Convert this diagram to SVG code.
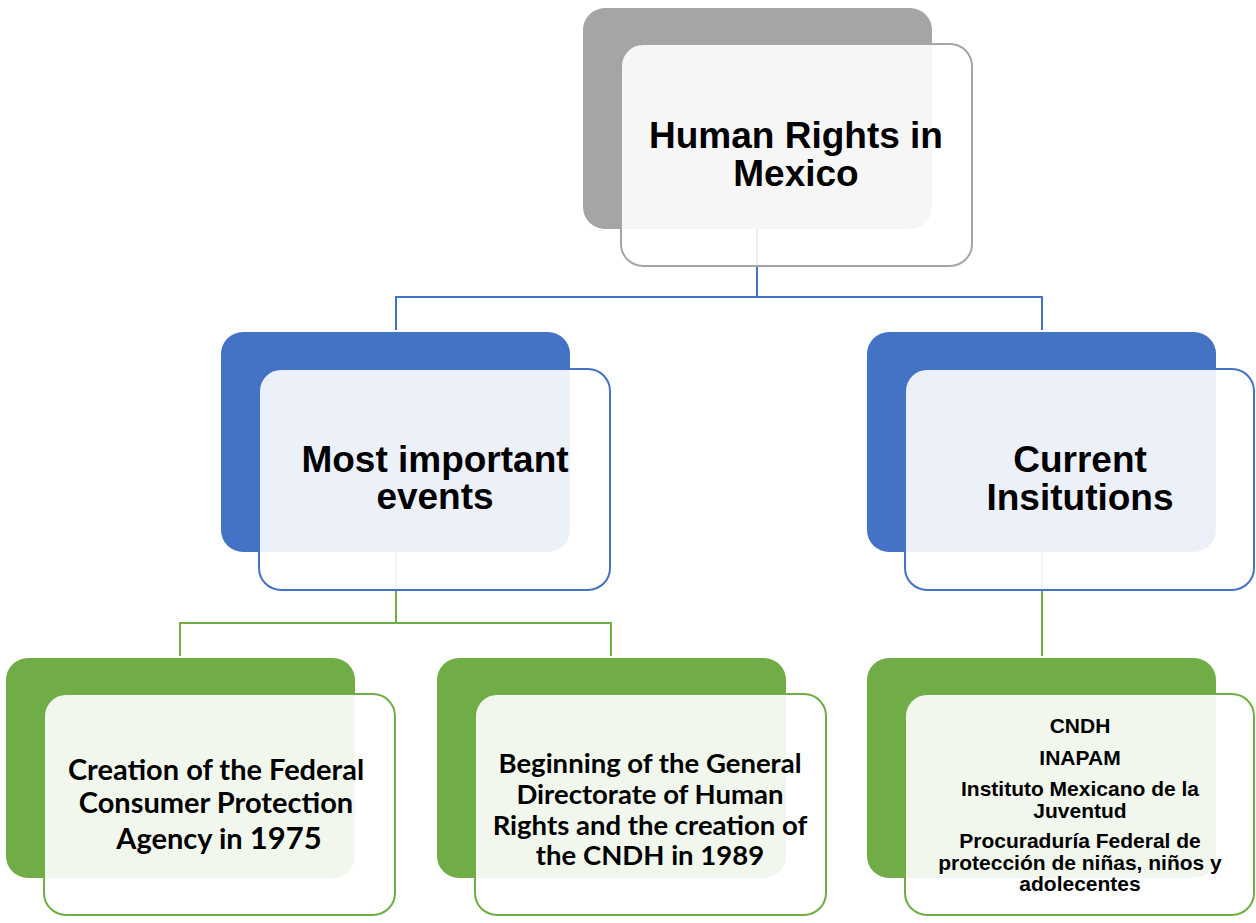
<svg xmlns="http://www.w3.org/2000/svg" width="1256" height="923" viewBox="0 0 1256 923">
<style>
.bg{fill:#ffffff}
.conn-b{fill:none;stroke:#4472c4;stroke-width:2}
.conn-g{fill:none;stroke:#70ad47;stroke-width:2}
.back-gray{fill:#a5a5a5}
.back-blue{fill:#4472c4}
.back-green{fill:#70ad47}
.front{fill:#ffffff;fill-opacity:0.9;stroke-width:2}
.fg{stroke:#a5a5a5}
.fb{stroke:#4472c4}
.fgr{stroke:#70ad47}
.t1{font-family:"Liberation Sans",Arial,sans-serif;font-weight:bold;font-size:37px;fill:#000;text-anchor:middle}
.t2{font-family:Lato,"Liberation Sans",sans-serif;font-weight:bold;fill:#000;text-anchor:middle}
.t3{font-family:"Liberation Sans",Arial,sans-serif;font-weight:bold;font-size:21px;fill:#000;text-anchor:middle}
</style>
<rect class="bg" x="0" y="0" width="1256" height="923"/>
<g id="connectors">
<path class="conn-b" d="M757,229 V297 M396,297 H1042 M396,296 V330 M1042,296 V330"/>
<path class="conn-g" d="M396,552 V623 M180,623 H611 M180,622 V656 M611,622 V656 M1042,552 V656"/>
</g>
<g id="node-root">
<rect class="back-gray" x="583" y="8" width="349" height="221" rx="22"/>
<rect class="front fg" x="621" y="44" width="351" height="222" rx="22"/>
<text class="t1" x="796" y="148">Human Rights in</text>
<text class="t1" x="796" y="186">Mexico</text>
</g>
<g id="node-events">
<rect class="back-blue" x="221" y="332" width="349" height="220" rx="22"/>
<rect class="front fb" x="259" y="369" width="351" height="221" rx="22"/>
<text class="t1" x="435" y="472">Most important</text>
<text class="t1" x="435" y="509">events</text>
</g>
<g id="node-institutions">
<rect class="back-blue" x="867" y="332" width="349" height="220" rx="22"/>
<rect class="front fb" x="905" y="369" width="349" height="221" rx="22"/>
<text class="t1" x="1080" y="472">Current</text>
<text class="t1" x="1080" y="510">Insitutions</text>
</g>
<g id="node-1975">
<rect class="back-green" x="6" y="658" width="349" height="220" rx="22"/>
<rect class="front fgr" x="44" y="694" width="351" height="221" rx="22"/>
<text class="t2" font-size="29" x="216" y="780">Creation of the Federal</text>
<text class="t2" font-size="29" x="216" y="813">Consumer Protection</text>
<text class="t2" font-size="29" x="219" y="849">Agency in <tspan font-size="31">1975</tspan></text>
</g>
<g id="node-1989">
<rect class="back-green" x="437" y="658" width="349" height="220" rx="22"/>
<rect class="front fgr" x="475" y="694" width="351" height="221" rx="22"/>
<text class="t2" font-size="27.5" x="650" y="773">Beginning of the General</text>
<text class="t2" font-size="27.5" x="650" y="804">Directorate of Human</text>
<text class="t2" font-size="27.5" x="650" y="835">Rights and the creation of</text>
<text class="t2" font-size="27.5" x="650" y="865">the CNDH in 1989</text>
</g>
<g id="node-current">
<rect class="back-green" x="867" y="658" width="349" height="220" rx="22"/>
<rect class="front fgr" x="905" y="694" width="349" height="221" rx="22"/>
<text class="t3" x="1080" y="733">CNDH</text>
<text class="t3" x="1080" y="765">INAPAM</text>
<text class="t3" x="1080" y="796">Instituto Mexicano de la</text>
<text class="t3" x="1080" y="818">Juventud</text>
<text class="t3" x="1080" y="848">Procuraduría Federal de</text>
<text class="t3" x="1080" y="870">protección de niñas, niños y</text>
<text class="t3" x="1080" y="891">adolecentes</text>
</g>
</svg>
